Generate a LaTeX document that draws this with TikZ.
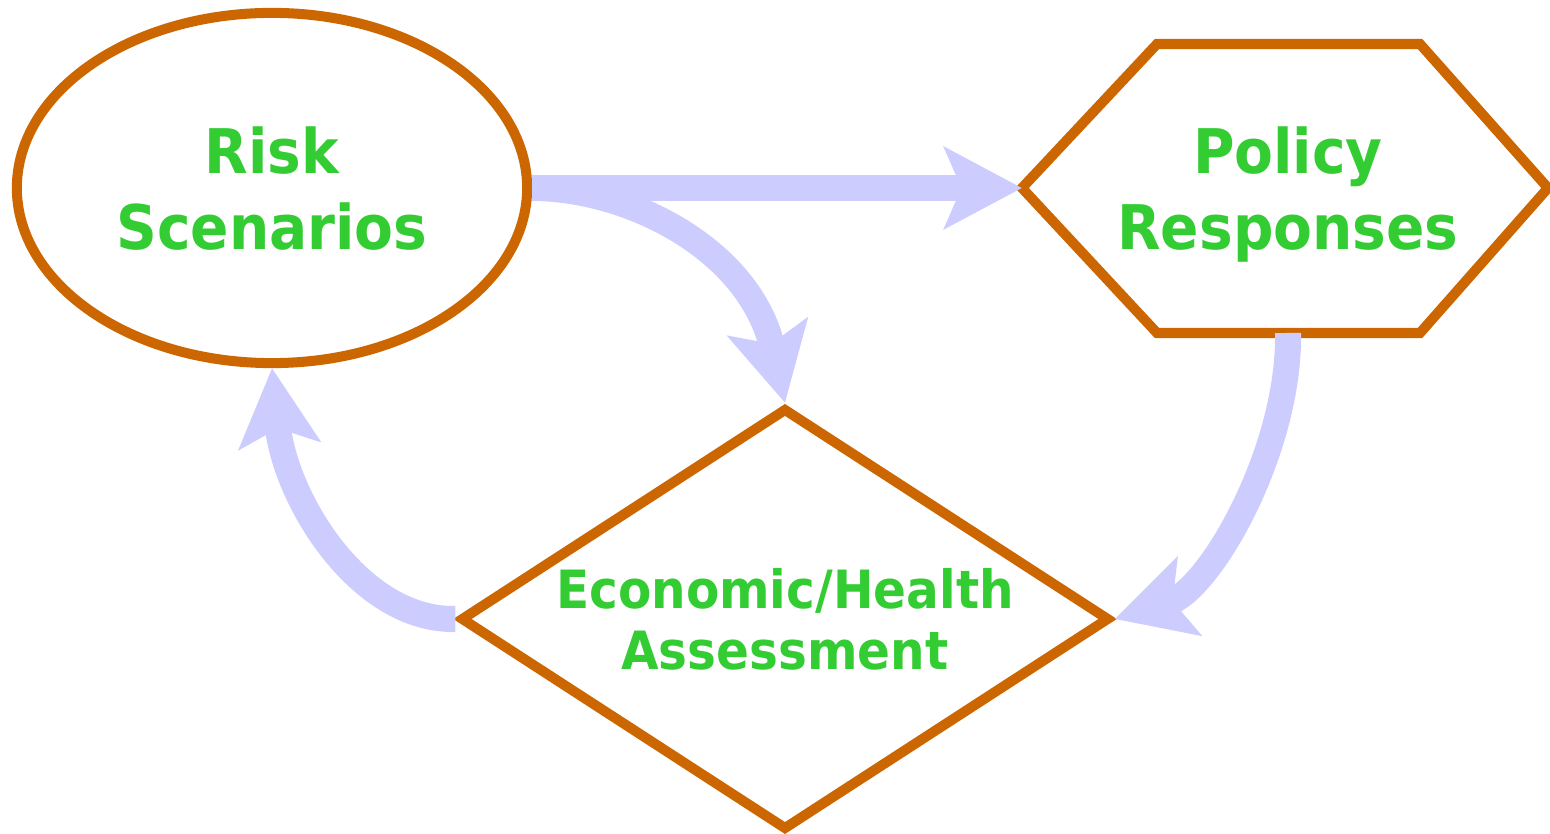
\documentclass[tikz,border=0pt]{standalone}
\usepackage{xcolor}
\usepackage{fontspec}
\usepackage{tikz}
\usetikzlibrary{arrows.meta,shapes.geometric,positioning}

\newfontfamily\diagfont{DejaVu Sans}[FakeStretch=0.92]
\definecolor{shapeorange}{HTML}{CC6600}
\definecolor{labelgreen}{HTML}{33CC33}
\definecolor{flowblue}{HTML}{CCCCFF}

\begin{document}
\begin{tikzpicture}[
            x=0.01cm,
            y=-0.01cm,
            every node/.style={
                    text=labelgreen,
                    align=center,
                    text depth=0pt
                },
            risk node/.style={
                    draw=shapeorange,
                    ellipse,
                    line width=2.85pt,
                    minimum width=5.10cm,
                    minimum height=3.50cm,
                    font=\diagfont\bfseries\fontsize{17.5}{21.6}\selectfont
                },
            policy label/.style={
                    font=\diagfont\bfseries\fontsize{17.5}{21.6}\selectfont
                },
            assess node/.style={
                    draw=shapeorange,
                    diamond,
                    aspect=1.54,
                    inner sep=0pt,
                    line width=2.85pt,
                    minimum width=6.49cm,
                    minimum height=4.22cm,
                    font=\diagfont\bfseries\fontsize{15}{17.6}\selectfont
                },
            shape line/.style={
                    draw=shapeorange,
                    line width=2.85pt,
                    line join=miter
                },
            flow/.style={
                    draw=flowblue,
                    line width=7.4pt,
                    -{Stealth[length=22pt,width=23pt,inset=4.8pt,fill=flowblue]}
                }
        ]

        \useasboundingbox (0,0) rectangle (1550,834);

        % Nodes
        \node[risk node] (risk) at (272,188) {Risk\\Scenarios};
        \node[policy label] (policy) at (1288,188) {Policy\\Responses};
        \node[assess node] (assess) at (785,619) {Economic/Health\\Assessment};

        % Hexagon round the policy label
        \coordinate (policy-w) at (1022,188);
        \coordinate (policy-s) at (1288,333);
        \draw[shape line] (policy-w) -- (1157,44) -- (1420,44) -- (1548,188)
            -- (1420,333) -- (1157,333) -- cycle;

        % Connections
        \draw[flow] (risk.east) -- (policy-w);
        \draw[flow] (risk.east) .. controls (630,188) and (750,250) .. (assess.north);
        \draw[flow] (policy-s) .. controls (1290,450) and (1210,590) .. (assess.east);
        \draw[flow] (assess.west) .. controls (360,621) and (285,500) .. (risk.south);

    \end{tikzpicture}
\end{document}
